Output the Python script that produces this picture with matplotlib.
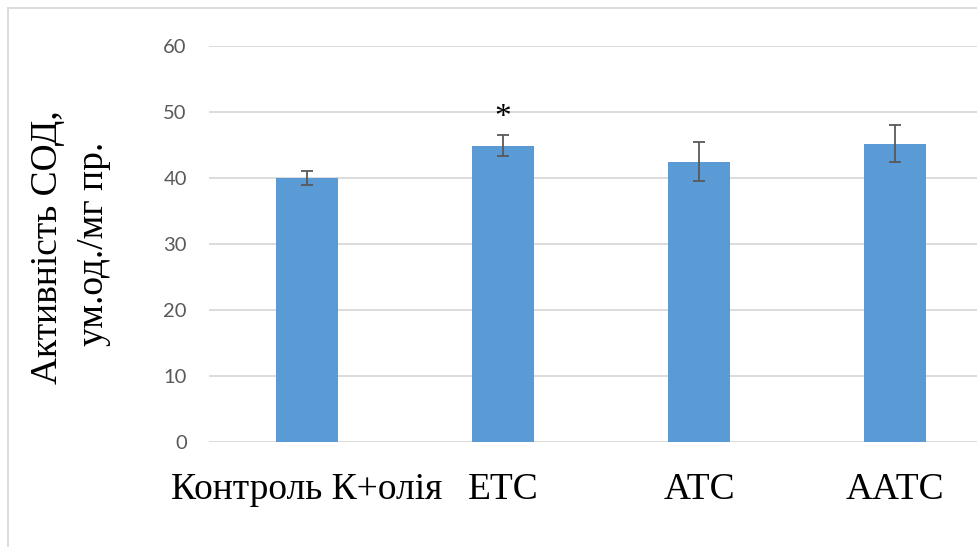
import matplotlib
matplotlib.use("Agg")
import matplotlib.pyplot as plt
from matplotlib.lines import Line2D

categories = ["Контроль К+олія", "ЕТС", "АТС", "ААТС"]
values = [40.0, 44.9, 42.5, 45.2]
errors = [1.1, 1.6, 2.9, 2.85]
y_ticks = [0, 10, 20, 30, 40, 50, 60]
star_label = "*"
star_index = 1
ylabel_line1 = "Активність СОД,"
ylabel_line2 = "ум.од./мг пр."

W, H = 978, 547
fig = plt.figure(figsize=(W / 100, H / 100), dpi=100)
ax = fig.add_axes([209 / W, (H - 442) / H, 784 / W, 396 / H])

x = list(range(len(categories)))
ax.bar(x, values, width=0.315, color="#5B9BD5", zorder=3)
ax.errorbar(x, values, yerr=errors, fmt="none", ecolor="#595959",
            elinewidth=1.3, capsize=4.3, capthick=1.3, zorder=4)

ax.set_xlim(-0.5, 3.5)
ax.set_ylim(0, 60)
ax.set_yticks(y_ticks)
ax.set_xticks(x)
ax.set_xticklabels(categories, fontfamily="Liberation Serif", fontsize=27, color="black")
ax.tick_params(axis="x", length=0, pad=22)
ax.tick_params(axis="y", length=0, pad=16, labelsize=14.5, labelcolor="#595959")
for lab in ax.get_yticklabels():
    lab.set_fontfamily("Lato")
for s in ax.spines.values():
    s.set_visible(False)
ax.yaxis.grid(True, color="#D9D9D9", linewidth=1.3, zorder=0)
ax.set_axisbelow(True)

ax.text(x[star_index], 49.2, star_label, ha="center", va="center",
        fontfamily="Liberation Serif", fontsize=24, color="black")

fig.text(48 / W, 1 - 247 / H, ylabel_line1, rotation=90, ha="center", va="center",
         fontfamily="Liberation Serif", fontsize=27, color="black")
fig.text(94 / W, 1 - 244 / H, ylabel_line2, rotation=90, ha="center", va="center",
         fontfamily="Liberation Serif", fontsize=27, color="black")

# outer chart border (partially visible)
fig.add_artist(Line2D([8 / W, 8 / W], [0, 1 - 8 / H], transform=fig.transFigure,
                      color="#D9D9D9", linewidth=1.3))
fig.add_artist(Line2D([8 / W, 1], [1 - 8 / H, 1 - 8 / H], transform=fig.transFigure,
                      color="#D9D9D9", linewidth=1.3))

fig.savefig("out.png", dpi=100)
